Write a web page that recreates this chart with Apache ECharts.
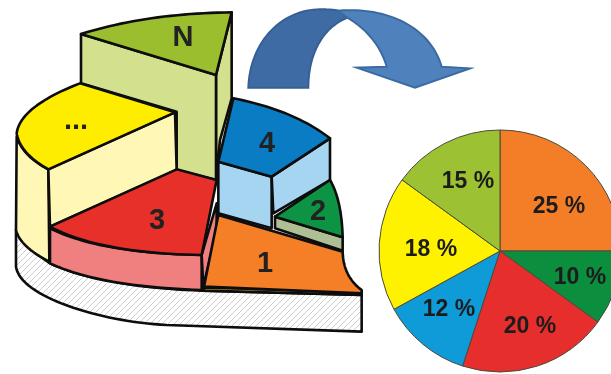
<!DOCTYPE html>
<html><head><meta charset="utf-8">
<style>html,body{margin:0;padding:0;background:#fff;overflow:hidden}#c{width:611px;height:374px}</style>
<script src="https://cdn.jsdelivr.net/npm/echarts@6/dist/echarts.min.js"></script>
</head><body><div id="c"></div>
<script>
// Data
const categories = ['1', '2', '3', '4', '...', 'N'];
const shares = [25, 10, 20, 12, 18, 15];
const sliceColors = ['#F47E28', '#0B8E3E', '#E62E2D', '#0E9BD8', '#FFF200', '#9CC233'];
const labelCentres = [[559,207],[580,278],[530,327],[449,310],[431,250],[468,182]];

// Illustration outlines (reference crop units: 3 per pixel)
function pts(d, ox, oy) {
  ox = ox || 0; oy = oy || 0;
  const t = d.trim().split(/\s+/), out = [];
  let i = 0, cur = null;
  const num = () => +t[i++];
  const push = (x, y) => { out.push([x / 3 + ox, y / 3 + oy]); cur = [x, y]; };
  while (i < t.length) {
    const c = t[i++];
    if (c === 'M' || c === 'L') { const x = num(), y = num(); push(x, y); }
    else if (c === 'Q') {
      const a = num(), b = num(), x = num(), y = num(), p = cur;
      for (let k = 1; k <= 24; k++) { const s = k / 24, r = 1 - s;
        push(r*r*p[0] + 2*r*s*a + s*s*x, r*r*p[1] + 2*r*s*b + s*s*y); }
    } else if (c === 'C') {
      const a = num(), b = num(), e = num(), f = num(), x = num(), y = num(), p = cur;
      for (let k = 1; k <= 32; k++) { const s = k / 32, r = 1 - s;
        push(r*r*r*p[0] + 3*r*r*s*a + 3*r*s*s*e + s*s*s*x, r*r*r*p[1] + 3*r*r*s*b + 3*r*s*s*f + s*s*s*y); }
    }
  }
  return out;
}
const hatch = document.createElement('canvas');
hatch.width = 6; hatch.height = 6;
(function () {
  const g = hatch.getContext('2d');
  g.fillStyle = '#fff'; g.fillRect(0, 0, 6, 6);
  g.strokeStyle = '#b8b8b8'; g.lineWidth = 0.7;
  g.beginPath();
  g.moveTo(-1, 1); g.lineTo(1, -1);
  g.moveTo(0, 6); g.lineTo(6, 0);
  g.moveTo(5, 7); g.lineTo(7, 5);
  g.stroke();
})();

const INK = '#0d0d0d';
const solids = [
  [ 'M 48 690 Q 90 750 150 790 Q 300 860 605 872 L 1085 885 L 1085 995 L 500 975 C 300 965 60 890 48 800', {image: hatch, repeat: 'repeat'} ],
  [ 'M 695 37 L 648 225 L 648 540 L 660 420 L 695 295', '#D3E08E' ],
  [ 'M 243 102 L 648 225 L 648 540 L 530 510 L 530 335 L 243 250', '#D3E08E' ],
  [ 'M 243 102 Q 440 40 695 37 L 648 225', '#9BBE2F' ],
  [ 'M 50 410 Q 70 470 145 508 L 148 785 Q 60 740 48 690', '#FFF7B5' ],
  [ 'M 145 508 L 525 337 L 530 510 L 150 680', '#FFF7B5' ],
  [ 'M 240 250 L 525 337 L 145 508 Q 60 460 50 400 Q 60 320 240 250', '#FFED00' ],
  [ 'M 150 685 Q 300 760 605 765 L 605 870 Q 300 860 150 790', '#F08080' ],
  [ 'M 605 765 L 650 610 L 650 690 L 610 860', '#F08080' ],
  [ 'M 150 680 L 530 508 L 650 540 L 605 765 Q 300 760 150 680', '#E73029' ],
  [ 'M 655 485 L 815 530 L 815 685 L 655 640', '#A5D5F0' ],
  [ 'M 815 530 L 990 415 L 990 540 L 820 640', '#A5D5F0' ],
  [ 'M 700 295 Q 880 330 990 415 L 815 530 L 655 485', '#0A7CC4' ],
  [ 'M 825 650 L 1028 712 L 1028 752 L 825 685', '#AEBF93' ],
  [ 'M 990 540 L 825 650 L 1028 712 Q 1025 600 990 540', '#0C9444' ],
  [ 'M 612 862 L 1085 876 L 1085 885 L 612 872', '#E5B83A' ],
  [ 'M 655 645 L 1028 755 Q 1030 830 1085 870 L 1085 880 L 612 860', '#F47F26' ]
];
const arrowBack = 'M 25 263 C 30 120 130 28 240 28 C 265 28 285 28 305 35 L 325 52 C 250 80 205 160 205 263';
const arrowFront = 'M 295 32 C 440 20 570 80 605 200 L 690 205 L 525 263 L 350 203 L 440 200 C 420 130 370 80 320 52';
const tags = [['N',183,38],['...',76,121],['3',157,221],['4',267,144],['2',318,212],['1',265,264]];

const graphics = [];
solids.forEach(s => graphics.push({
  type: 'polygon', silent: true,
  shape: { points: pts(s[0]) },
  style: { fill: s[1], stroke: INK, lineWidth: 2.6, lineJoin: 'round' }
}));
graphics.push(
  { type: 'polygon', silent: true, shape: { points: pts(arrowBack, 240, 0) },
    style: { fill: '#3F6BA5', stroke: '#365F95', lineWidth: 2 } },
  { type: 'polygon', silent: true, shape: { points: pts(arrowFront, 240, 0) },
    style: { fill: '#4F81BD', stroke: '#3A6BA0', lineWidth: 2 } }
);
tags.forEach(t => graphics.push({
  type: 'text', silent: true, x: t[1], y: t[2],
  style: { text: t[0], fill: '#222', font: 'bold 29px "Liberation Sans"', textAlign: 'center', textVerticalAlign: 'middle' }
}));

const chart = echarts.init(document.getElementById('c'), null, { renderer: 'canvas' });
chart.setOption({
  animation: false,
  backgroundColor: '#fff',
  graphic: { elements: graphics },
  series: [{
    type: 'pie',
    center: [500, 251],
    radius: [0, 121],
    startAngle: 90,
    clockwise: true,
    silent: true,
    data: shares.map((v, i) => ({ name: categories[i], value: v, itemStyle: { color: sliceColors[i] } })),
    itemStyle: { borderColor: '#4a4a3a', borderWidth: 1 },
    label: { show: true, position: 'inside', formatter: p => p.value + ' %',
      color: '#1c1c1c', fontFamily: 'Liberation Sans', fontWeight: 'bold', fontSize: 23 },
    labelLine: { show: false },
    labelLayout: p => ({ x: labelCentres[p.dataIndex][0], y: labelCentres[p.dataIndex][1], align: 'center', verticalAlign: 'middle' })
  }]
});
</script></body></html>
